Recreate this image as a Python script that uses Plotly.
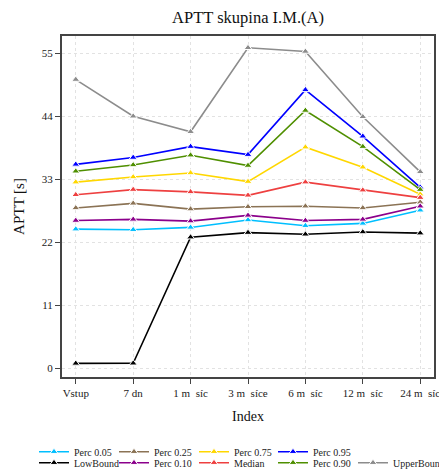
import plotly.graph_objects as go

categories = ["Vstup", "7 dn", "1 m\u00a0\u00a0síc", "3 m\u00a0\u00a0síce", "6 m\u00a0\u00a0síc", "12 m\u00a0\u00a0síc", "24 m\u00a0\u00a0síc"]
x_idx = [0, 1, 2, 3, 4, 5, 6]

perc_05 = [24.3, 24.2, 24.6, 25.9, 24.9, 25.3, 27.6]
low_bound = [0.87, 0.9, 22.9, 23.7, 23.4, 23.8, 23.6]
perc_25 = [28.0, 28.8, 27.8, 28.2, 28.3, 28.0, 29.0]
perc_10 = [25.8, 26.0, 25.7, 26.7, 25.8, 26.0, 28.3]
perc_75 = [32.5, 33.4, 34.1, 32.6, 38.6, 35.1, 30.4]
median = [30.3, 31.2, 30.8, 30.2, 32.5, 31.1, 29.8]
perc_95 = [35.6, 36.8, 38.7, 37.3, 48.6, 40.5, 31.6]
perc_90 = [34.4, 35.5, 37.2, 35.4, 45.0, 38.7, 31.2]
upper_bound = [50.4, 44.0, 41.3, 55.95, 55.3, 43.9, 34.3]

y_ticks = [0, 11, 22, 33, 44, 55]

# name, values, colour, legend column, legend row
series = [
    ("Perc 0.05", perc_05, "#00BFFF", 0, 0),
    ("Perc 0.25", perc_25, "#8B7355", 1, 0),
    ("Perc 0.75", perc_75, "#FFD700", 2, 0),
    ("Perc 0.95", perc_95, "#0000FF", 3, 0),
    ("LowBound", low_bound, "#000000", 0, 1),
    ("Perc 0.10", perc_10, "#8B008B", 1, 1),
    ("Median", median, "#EE4040", 2, 1),
    ("Perc 0.90", perc_90, "#4F8F00", 3, 1),
    ("UpperBound", upper_bound, "#8C8C8C", 4, 1),
]

FONT = "Liberation Serif"
W, H = 447, 471
OFF = 8  # page body margin offset
col_text_x = [74, 154, 234, 313, 393]
row_y = [451.7, 462.7]

fig = go.Figure()
legends = {}
for i, (name, vals, col, c, r) in enumerate(series):
    lname = "legend" if i == 0 else f"legend{i + 1}"
    fig.add_trace(go.Scatter(
        x=x_idx, y=vals, name=name, mode="lines+markers",
        line=dict(color=col, width=1.6),
        marker=dict(symbol="triangle-up", size=7, color=col,
                    line=dict(color="white", width=1)),
        legend=lname,
    ))
    legends[lname] = dict(
        orientation="h", xanchor="left", yanchor="middle",
        xref="container", yref="container",
        x=(col_text_x[c] - 40 - OFF) / W, y=1 - (row_y[r] - OFF) / H,
        font=dict(family=FONT, size=10, color="#222"),
        bgcolor="rgba(0,0,0,0)", itemwidth=30,
    )

fig.update_layout(
    width=W, height=H,
    margin=dict(l=62 - OFF, r=W - 434 + OFF, t=36 - OFF, b=H - 377 + OFF, autoexpand=False),
    paper_bgcolor="white", plot_bgcolor="white",
    font=dict(family=FONT, color="#222"),
    title=dict(text="APTT skupina I.M.(A)", x=(248 - OFF) / W, xanchor="center",
               y=1 - (17 - OFF) / H, yanchor="middle", font=dict(family=FONT, size=16.5, color="#111")),
    showlegend=True,
    xaxis=dict(
        range=[-0.24, 6.24], tickmode="array", tickvals=x_idx, ticktext=categories,
        showgrid=True, gridcolor="#E2E2E2", griddash="dot", gridwidth=1,
        zeroline=False, showline=True, linecolor="#444", linewidth=2, mirror=True,
        ticks="outside", ticklen=5, tickcolor="#444",
        tickfont=dict(family=FONT, size=11, color="#222"),
        title=dict(text="Index", font=dict(family=FONT, size=14, color="#111"), standoff=13),
    ),
    yaxis=dict(
        range=[-1.5, 58.0], tickmode="array", tickvals=y_ticks,
        showgrid=True, gridcolor="#E2E2E2", griddash="dot", gridwidth=1,
        zeroline=False, showline=True, linecolor="#444", linewidth=2, mirror=True,
        ticks="outside", ticklen=5, tickcolor="#444",
        tickfont=dict(family=FONT, size=11, color="#222"),
        title=dict(text="APTT [s]", font=dict(family=FONT, size=15, color="#111"), standoff=14),
    ),
    **legends,
)

fig.write_html("out.html")
